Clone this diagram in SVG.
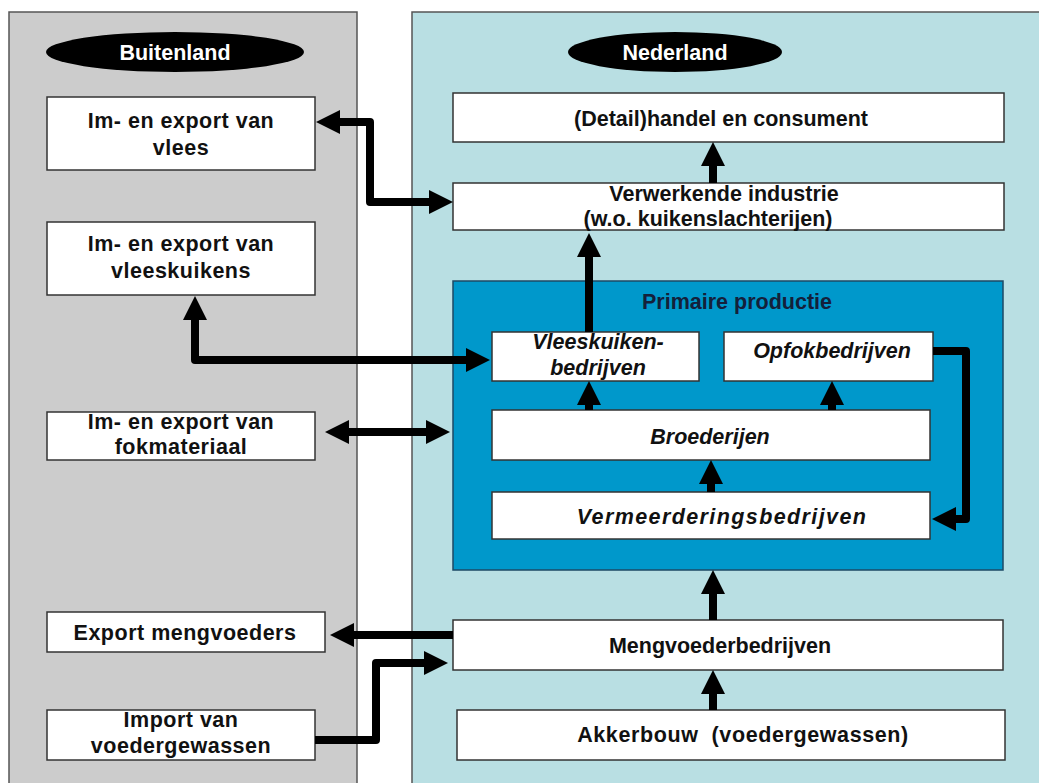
<svg xmlns="http://www.w3.org/2000/svg" width="1039" height="783" viewBox="0 0 1039 783">
<defs>
<style>
.t{font-family:"Liberation Sans",Arial,sans-serif;font-size:21.5px;font-weight:bold;fill:#111;text-anchor:middle}
.i{font-style:italic}
.w{fill:#fff}
.s{letter-spacing:0.5px}
.box{fill:#fff;stroke:#333;stroke-width:1.5}
.c{fill:none;stroke:#000;stroke-width:8;stroke-linejoin:round}
.a{marker-end:url(#ah)}
.b{marker-start:url(#ah);marker-end:url(#ah)}
</style>
<marker id="ah" markerUnits="userSpaceOnUse" markerWidth="24" markerHeight="24" viewBox="0 0 24 24" refX="14" refY="12" orient="auto-start-reverse">
<path d="M0,0 L24,12 L0,24 z" fill="#000"/>
</marker>
</defs>
<rect width="1039" height="783" fill="#fff"/>
<g id="panel-buitenland">
<rect x="9" y="12" width="348" height="780" fill="#cccccc" stroke="#555" stroke-width="1.5"/>
<ellipse cx="175" cy="52" rx="129" ry="20" fill="#000"/>
<text class="t w" x="175" y="60">Buitenland</text>
</g>
<g id="panel-nederland">
<rect x="412" y="12" width="640" height="780" fill="#b9dfe3" stroke="#555" stroke-width="1.5"/>
<ellipse cx="675" cy="52" rx="107" ry="20" fill="#000"/>
<text class="t w" x="675" y="60">Nederland</text>
</g>
<g id="primaire-productie">
<rect x="453" y="281" width="550" height="289" fill="#0098cb" stroke="#1d4a66" stroke-width="1.5"/>
<text class="t" x="737" y="309" style="fill:#14203a">Primaire productie</text>
</g>
<g id="n-vlees">
<rect class="box" x="47" y="97" width="268" height="73"/>
<text class="t s" x="181" y="128">Im- en export van</text>
<text class="t s" x="181" y="155">vlees</text>
</g>
<g id="n-vleeskuikens">
<rect class="box" x="47" y="222" width="268" height="73"/>
<text class="t s" x="181" y="251">Im- en export van</text>
<text class="t s" x="181" y="278">vleeskuikens</text>
</g>
<g id="n-fokmateriaal">
<rect class="box" x="47" y="412" width="268" height="48"/>
<text class="t s" x="181" y="429">Im- en export van</text>
<text class="t s" x="181" y="454">fokmateriaal</text>
</g>
<g id="n-export-mengvoeders">
<rect class="box" x="47" y="612" width="278" height="40"/>
<text class="t s" x="185" y="640">Export mengvoeders</text>
</g>
<g id="n-import">
<rect class="box" x="47" y="710" width="268" height="50"/>
<text class="t s" x="181" y="727">Import van</text>
<text class="t s" x="181" y="753">voedergewassen</text>
</g>
<g id="n-detailhandel">
<rect class="box" x="453" y="93" width="551" height="49"/>
<text class="t" x="721" y="126">(Detail)handel en consument</text>
</g>
<g id="n-verwerkende">
<rect class="box" x="453" y="183" width="551" height="47"/>
<text class="t" x="724" y="201">Verwerkende industrie</text>
<text class="t" x="708" y="226">(w.o. kuikenslachterijen)</text>
</g>
<g id="n-vleeskuikenbedrijven">
<rect class="box" x="492" y="332" width="207" height="49"/>
<text class="t i" x="598" y="349">Vleeskuiken-</text>
<text class="t i" x="598" y="375">bedrijven</text>
</g>
<g id="n-opfok">
<rect class="box" x="724" y="332" width="209" height="49"/>
<text class="t i" x="832" y="358">Opfokbedrijven</text>
</g>
<g id="n-broederijen">
<rect class="box" x="492" y="410" width="438" height="50"/>
<text class="t i" x="710" y="444">Broederijen</text>
</g>
<g id="n-vermeerdering">
<rect class="box" x="492" y="492" width="438" height="47"/>
<text class="t i" x="722" y="524" style="letter-spacing:1.4px">Vermeerderingsbedrijven</text>
</g>
<g id="n-mengvoeder">
<rect class="box" x="453" y="620" width="550" height="50"/>
<text class="t" x="720" y="653">Mengvoederbedrijven</text>
</g>
<g id="n-akkerbouw">
<rect class="box" x="457" y="710" width="548" height="50"/>
<text class="t" x="743" y="742" xml:space="preserve" style="letter-spacing:0.6px">Akkerbouw  (voedergewassen)</text>
</g>
<g id="connectors">
<path class="c b" d="M326,122 H370 V202 H443"/>
<path class="c a" d="M713,183 V152"/>
<path class="c a" d="M589,332 V243"/>
<path class="c b" d="M195,306 V360 H480"/>
<path class="c b" d="M335,432 H440"/>
<path class="c a" d="M589,410 V391"/>
<path class="c a" d="M832,410 V391"/>
<path class="c a" d="M711,492 V470"/>
<path class="c a" d="M933,351 H966 V519 H942"/>
<path class="c a" d="M713,620 V580"/>
<path class="c a" d="M713,710 V680"/>
<path class="c a" d="M453,635 H340"/>
<path class="c a" d="M315,740 H376 V663 H438"/>
</g>
</svg>
